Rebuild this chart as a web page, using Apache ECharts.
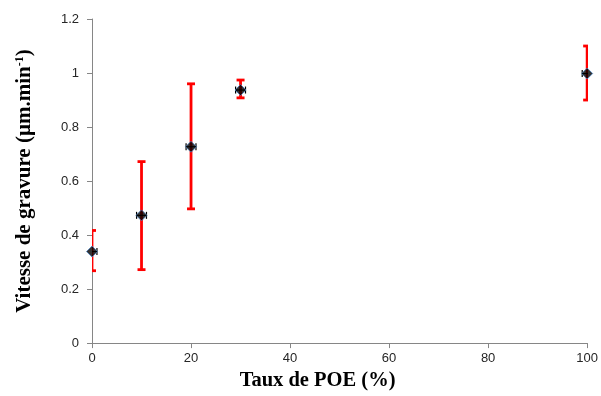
<!DOCTYPE html>
<html>
<head>
<meta charset="utf-8">
<script src="https://cdn.jsdelivr.net/npm/echarts@6/dist/echarts.min.js"></script>
<style>html,body{margin:0;padding:0;background:#fff}#c{width:601px;height:396px}</style>
</head>
<body>
<div id="c"></div>
<script>
var xValues = [0, 10, 20, 30, 100];
var yValues = [0.339, 0.473, 0.727, 0.937, 0.998];
var yErrLow = [0.268, 0.272, 0.497, 0.908, 0.900];
var yErrHigh = [0.417, 0.672, 0.960, 0.974, 1.100];
var xErr = [1, 1, 1, 1, 1];
var xTicks = [0, 20, 40, 60, 80, 100];
var yTicks = [0, 0.2, 0.4, 0.6, 0.8, 1, 1.2];

var chart = echarts.init(document.getElementById('c'));
var pts = xValues.map(function (x, i) { return [x, yValues[i]]; });
var yErrData = xValues.map(function (x, i) { return [x, yErrLow[i], yErrHigh[i]]; });
var xErrData = xValues.map(function (x, i) { return [x - xErr[i], x + xErr[i], yValues[i]]; });

function yErrRender(params, api) {
  var lo = api.coord([api.value(0), api.value(1)]);
  var hi = api.coord([api.value(0), api.value(2)]);
  var hw = 4;
  var st = { stroke: '#ff0000', lineWidth: 2.8 };
  return {
    type: 'group',
    children: [
      { type: 'line', shape: { x1: lo[0], y1: lo[1], x2: hi[0], y2: hi[1] }, style: st },
      { type: 'line', shape: { x1: lo[0] - hw, y1: lo[1], x2: lo[0] + hw, y2: lo[1] }, style: st },
      { type: 'line', shape: { x1: hi[0] - hw, y1: hi[1], x2: hi[0] + hw, y2: hi[1] }, style: st }
    ]
  };
}
function xErrRender(params, api) {
  var l = api.coord([api.value(0), api.value(2)]);
  var r = api.coord([api.value(1), api.value(2)]);
  var hh = 3.5;
  var st = { stroke: '#000000', lineWidth: 1.2 };
  return {
    type: 'group',
    children: [
      { type: 'line', shape: { x1: l[0], y1: l[1], x2: r[0], y2: r[1] }, style: st },
      { type: 'line', shape: { x1: l[0], y1: l[1] - hh, x2: l[0], y2: l[1] + hh }, style: st },
      { type: 'line', shape: { x1: r[0], y1: r[1] - hh, x2: r[0], y2: r[1] + hh }, style: st }
    ]
  };
}

chart.setOption({
  animation: false,
  grid: { left: 92, right: 11, top: 19, bottom: 52, containLabel: false },
  xAxis: {
    type: 'value', min: xTicks[0], max: xTicks[xTicks.length - 1], interval: 20,
    name: 'Taux de POE (%)', nameLocation: 'middle', nameGap: 24,
    nameTextStyle: { fontFamily: 'Liberation Serif', fontWeight: 'bold', fontSize: 20.5, color: '#000', padding: [0, 44, 0, 0] },
    axisLine: { show: true, lineStyle: { color: '#868686', width: 1 } },
    axisTick: { show: true, length: 5, lineStyle: { color: '#868686' } },
    axisLabel: { margin: 9, fontFamily: 'Liberation Sans', fontSize: 13, color: '#262626' },
    splitLine: { show: false }
  },
  yAxis: {
    type: 'value', min: yTicks[0], max: yTicks[yTicks.length - 1], interval: 0.2,
    name: '{a|Vitesse de gravure (µm.min}{s|-1}{a|)}', nameLocation: 'middle', nameGap: 57,
    nameTextStyle: {
      rich: {
        a: { fontFamily: 'Liberation Serif', fontWeight: 'bold', fontSize: 21, color: '#000' },
        s: { fontFamily: 'Liberation Serif', fontWeight: 'bold', fontSize: 12, color: '#000', verticalAlign: 'top', padding: [0, 0, 9, 0] }
      }
    },
    axisLine: { show: true, lineStyle: { color: '#868686', width: 1 } },
    axisTick: { show: true, length: 5, lineStyle: { color: '#868686' } },
    axisLabel: { margin: 13, fontFamily: 'Liberation Sans', fontSize: 13, color: '#262626',
      formatter: function (v) { return String(Math.round(v * 10) / 10); } },
    splitLine: { show: false }
  },
  series: [
    { type: 'custom', renderItem: yErrRender, data: yErrData, clip: true, z: 2, encode: { x: 0, y: [1, 2] } },
    { type: 'custom', renderItem: xErrRender, data: xErrData, clip: true, z: 3, encode: { x: [0, 1], y: 2 } },
    { type: 'scatter', data: pts, symbol: 'diamond', symbolSize: 11, z: 4,
      itemStyle: { color: '#000', borderColor: '#4a7ebb', borderWidth: 1 } }
  ]
});
</script>
</body>
</html>
